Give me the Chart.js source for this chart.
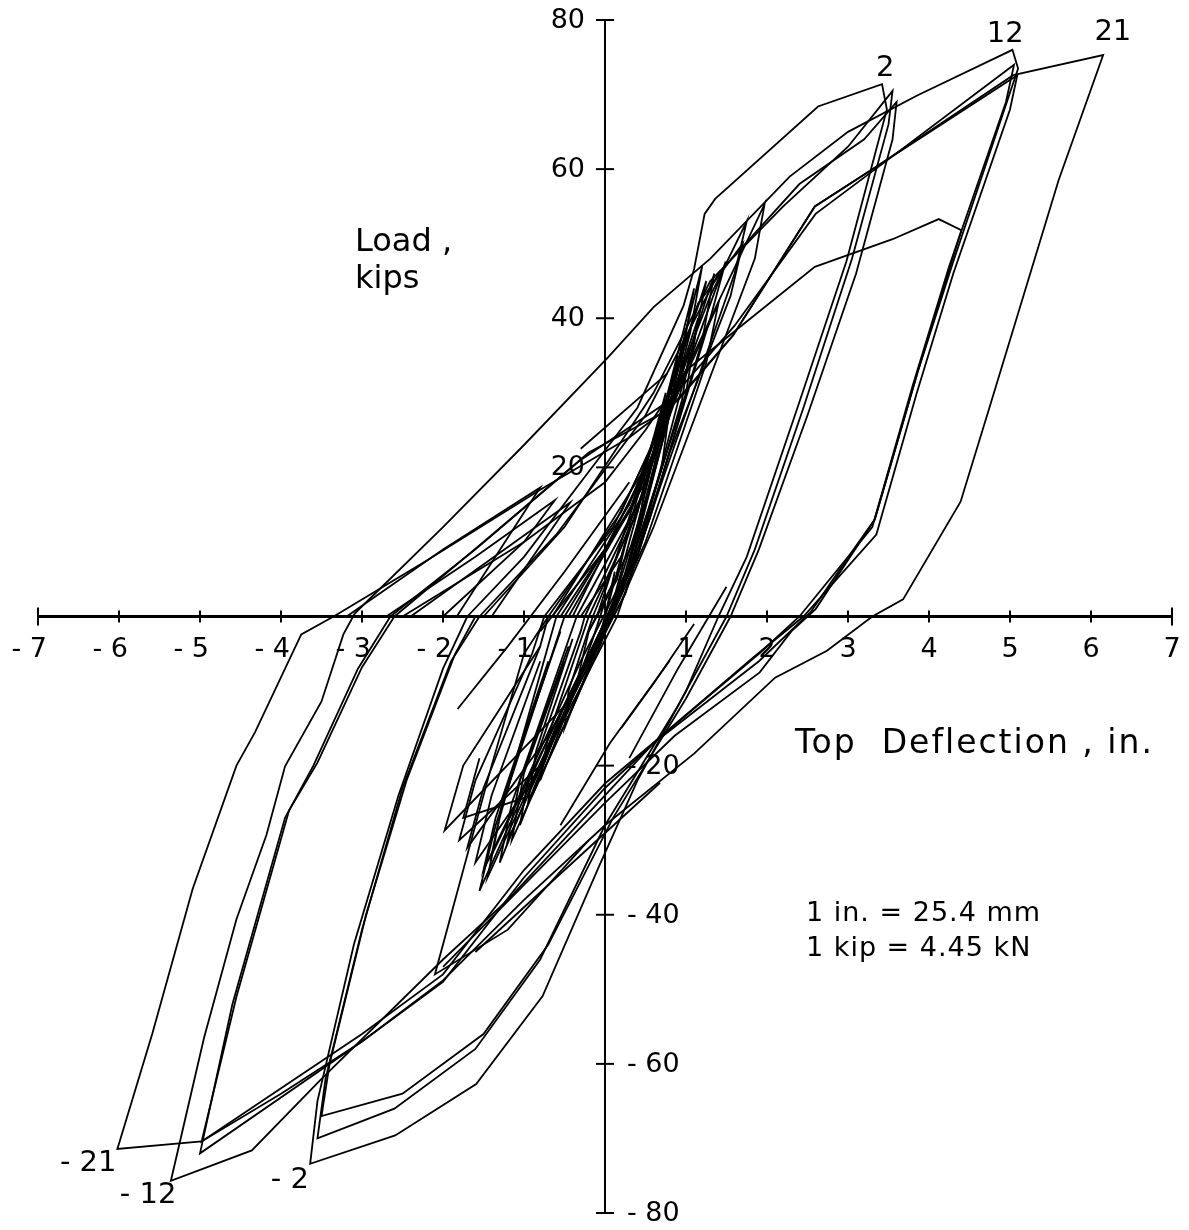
<!DOCTYPE html>
<html>
<head>
<meta charset="utf-8">
<script src="https://cdn.jsdelivr.net/npm/chart.js@4.4.1/dist/chart.umd.min.js"></script>
<style>
  html, body { margin: 0; background: #fff; }
  #wrap { width: 1189px; height: 1230px; position: relative; }
</style>
</head>
<body>
<div id="wrap"><canvas id="chart"></canvas></div>
<script>
// tick labels
const xTicks = [-7, -6, -5, -4, -3, -2, -1, 1, 2, 3, 4, 5, 6, 7];
const yTicks = [80, 60, 40, 20, -20, -40, -60, -80];

// load cycles, [top deflection (in.), load (kips)]
const cycle2 = [
  [-1.7, 0], [-1.0, 8], [-0.3, 18], [0.4, 28], [0.97, 41.7], [1.1, 46.6], [1.23, 54], [1.36, 56],
  [2.63, 68.4], [3.42, 71.4], [3.48, 68], [2.98, 47.6], [2.37, 27.8], [1.75, 8], [1.4, 0],
  [1.0, -10], [0.4, -22], [-0.07, -33.4], [-0.77, -50.9], [-1.59, -62.7], [-2.59, -69.6],
  [-3.64, -73.4], [-3.55, -65], [-3.1, -44], [-2.55, -24], [-2.0, -7], [-1.7, 0]
];
const cycle2b = [
  [-1.5, 0], [-0.5, 12], [0.6, 30], [1.3, 45], [2.2, 55], [3.0, 63], [3.55, 70.5], [3.5, 66],
  [3.05, 48], [2.45, 28], [1.85, 9], [1.5, 0], [0.9, -12], [0.0, -28], [-0.8, -46], [-1.6, -58],
  [-2.6, -66], [-3.55, -70], [-3.45, -62], [-3.0, -42], [-2.5, -23], [-1.9, -6], [-1.55, 0]
];
const cycle2c = [
  [-1.55, 0], [-0.6, 11], [0.5, 27], [1.4, 46], [2.4, 58], [3.2, 64], [3.6, 69], [3.55, 64],
  [3.1, 46], [2.5, 27], [1.9, 9], [1.55, 0], [1.0, -11], [0.1, -27], [-0.7, -44], [-1.5, -56],
  [-2.5, -64], [-3.5, -67], [-3.4, -60], [-2.95, -40], [-2.45, -22], [-1.85, -5], [-1.6, 0]
];
const cycle12 = [
  [-3.09, 0.4], [-2.0, 12], [-1.0, 23], [0.04, 34.8], [0.6, 41.5], [1.3, 48], [2.28, 59],
  [3.0, 65], [3.86, 69.9], [5.03, 76], [5.1, 73.5], [4.3, 47.6], [3.86, 32.8], [3.33, 13],
  [3.07, 9], [2.54, 0.6], [1.9, -6], [0.6, -17], [0.0, -24], [-1.2, -38], [-2.0, -46],
  [-3.5, -62], [-4.36, -71.6], [-5.36, -75.7], [-4.95, -56.5], [-4.55, -40.6], [-4.18, -29.3],
  [-3.95, -20.1], [-3.5, -11.4], [-3.23, -2.4], [-3.09, 0.4]
];
const cycle12b = [
  [-2.6, 0], [-1.5, 10], [-0.2, 22], [0.79, 27.8], [1.58, 37.7], [2.59, 55], [3.33, 60.2],
  [5.09, 72.6], [5.0, 68], [4.3, 46], [3.85, 30], [3.35, 11], [2.45, 0], [1.83, -5.5],
  [0.59, -17], [0.0, -22.4], [-1.0, -34], [-2.0, -48], [-3.0, -56], [-4.98, -70.4],
  [-4.55, -51], [-3.9, -26], [-3.55, -19.6], [-3.0, -6.8], [-2.6, 0]
];
const cycle12c = [
  [-2.65, 0], [-1.6, 9], [-0.3, 21], [0.8, 29], [1.6, 39], [2.6, 54], [3.4, 60.5], [5.05, 74],
  [4.95, 69], [4.25, 47], [3.8, 31], [3.3, 12], [2.4, 0], [1.9, -5], [0.7, -16], [0.0, -23],
  [-1.0, -35], [-2.0, -49], [-3.0, -57], [-5.0, -72], [-4.6, -52], [-3.95, -27], [-3.6, -20],
  [-3.05, -7], [-2.65, 0]
];
const cycle21 = [
  [-3.35, 0], [-2.2, 7.5], [-0.8, 17], [0.3, 24], [0.9, 29], [1.58, 37.7], [2.59, 55],
  [3.33, 60.2], [5.04, 72.6], [6.15, 75.3], [5.6, 58.5], [4.74, 27.8], [4.39, 15.4], [3.68, 2.3],
  [3.3, 0], [2.74, -4.6], [2.1, -8.2], [1.1, -18.4], [0.0, -28], [-1.0, -38], [-2.0, -48.8],
  [-3.0, -57], [-4.0, -64], [-4.98, -70.4], [-6.02, -71.4], [-5.59, -56], [-5.09, -36.5],
  [-4.55, -20], [-4.32, -15.5], [-3.75, -2.4], [-3.35, 0]
];
const cycleLast = [
  [-2.5, 0], [-1.0, 10], [0.0, 18], [0.5, 25], [1.0, 33], [1.8, 40], [2.59, 46.9], [3.55, 50.6],
  [4.12, 53.3], [4.4, 51.8], [3.86, 32.8], [3.33, 13], [2.6, 1], [2.3, -2], [1.91, -7.5],
  [0.86, -16], [0.0, -25], [-1.0, -36], [-2.0, -47]
];

// small cycles in the middle
const small1 = [[0, 0], [0.12, 6], [0.05, 2], [-0.1, -4], [-0.15, -6], [0, 0]];
const small2 = [[0, 0], [0.3, 12], [0.15, 5], [-0.2, -2], [-0.35, -9], [-0.15, -3], [0, 2]];
const small3 = [[-0.1, 0], [0.5, 20], [0.45, 14], [0.05, 0], [-0.5, -15], [-0.45, -10], [-0.15, 0]];
const small4 = [[-0.15, 0], [0.3, 12], [0.75, 30], [0.65, 24], [0.1, 2], [-0.3, -8], [-0.8, -22], [-0.7, -16], [-0.2, 0]];
const small5 = [[-0.2, 0], [0.4, 14], [1.0, 38], [0.9, 31], [0.2, 4], [-0.4, -10], [-1.05, -28], [-0.95, -22], [-0.3, -2], [-0.25, 0]];
const small6 = [[-0.25, 0], [0.45, 16], [1.1, 44], [0.95, 35], [0.25, 5], [-0.5, -12], [-1.3, -33], [-1.15, -25], [-0.35, 0]];
const small7 = [[-0.35, 0], [0.5, 17], [1.2, 47], [1.05, 38], [0.3, 6], [-0.6, -14], [-1.55, -36.8], [-1.35, -28], [-0.5, 0]];
const small8 = [[-0.5, 0], [0.5, 18], [1.49, 47.6], [1.3, 40], [0.4, 8], [-0.5, -12], [-1.98, -28.7], [-1.75, -20], [-0.8, -4], [-0.7, 0]];
const small9 = [[-0.7, 0], [0.2, 14], [1.0, 33], [1.97, 55.3], [1.85, 48], [0.6, 12], [0.2, 2], [-0.6, -15], [-1.45, -35], [-1.3, -27], [-0.6, 0]];
const small10 = [[-0.6, 0], [0.3, 15], [1.3, 43], [1.75, 53], [1.6, 46], [0.7, 18], [0.15, 0], [-0.8, -20], [-1.8, -30], [-1.6, -22], [-0.9, -5], [-0.75, 0]];
const small11 = [[-0.75, 0], [0.1, 12], [0.9, 30], [1.4, 42], [1.25, 34], [0.5, 10], [0.0, -2], [-0.9, -22], [-1.6, -33], [-1.4, -24], [-0.8, -6]];
const small12 = [[-0.4, 0], [0.6, 22], [1.15, 40], [1.0, 30], [0.35, 8], [-0.7, -18], [-1.2, -30], [-1.05, -22], [-0.45, -4]];
const small13 = [[-0.3, 0], [0.2, 8], [0.8, 28], [0.7, 20], [0.2, 3], [-0.4, -10], [-0.95, -25], [-0.85, -18], [-0.4, -3]];
const small14 = [[-0.45, 0], [0.4, 16], [1.05, 36], [0.95, 29], [0.35, 7], [-0.55, -13], [-1.4, -32], [-1.25, -24], [-0.55, -2]];
const small15 = [[-0.55, 0], [0.3, 14], [1.15, 42], [1.7, 50], [1.55, 43], [0.8, 22], [0.25, 3], [-0.7, -16], [-1.7, -31], [-1.5, -23], [-0.8, -4]];
const small16 = [[-0.65, 0], [0.5, 20], [1.25, 45], [1.1, 37], [0.45, 10], [-0.3, -6], [-1.1, -25], [-1.5, -34], [-1.35, -27], [-0.7, -6]];
const small17 = [[-0.8, -2], [0.0, 9], [0.7, 24], [1.35, 46], [1.2, 37], [0.55, 13], [-0.1, -5], [-0.9, -24], [-1.75, -27], [-1.55, -19]];
const small18 = [[-0.2, -2], [0.35, 10], [0.9, 35], [0.8, 27], [0.25, 5], [-0.35, -11], [-1.15, -30], [-1.0, -21], [-0.5, -6]];
const partial1 = [[-3.19, 0], [-2.0, 9], [-0.8, 17.3], [-1.83, 0]];
const partial2 = [[-2.4, 0], [-0.43, 15.3], [-1.4, 0]];
const partial3 = [[-0.2, -30], [-1.2, -42], [-2.1, -48], [-1.85, -38], [-1.4, -20], [-1.0, -5], [-0.7, 0]];
const partial4 = [[0.8, -5.9], [0.06, -17], [-0.55, -28]];
const partial5 = [[0.68, -22.3], [-0.55, -34.5], [-1.6, -45]];
const partial6 = [[-1.82, -12.4], [-1.2, -4], [-0.5, 6], [0.3, 18]];
const partial7 = [[1.1, -1], [0.6, -9], [0.2, -15]];
const partial8 = [[1.5, 4], [0.9, -7], [0.3, -19]];
const partial9 = [[-2.7, 0], [-1.6, 8], [-0.62, 15.6], [-1.0, 10], [-2.0, 0]];
const partial10 = [[-0.3, 22.5], [0.77, 32.6]];

const cycles = [
  cycle2, cycle2b, cycle2c, cycle12, cycle12b, cycle12c, cycle21, cycleLast,
  small1, small2, small3, small4, small5, small6, small7, small8, small9, small10, small11, small12,
  small13, small14, small15, small16, small17, small18,
  partial1, partial2, partial3, partial4, partial5, partial6, partial7, partial8, partial9, partial10
];

// cycle numbers written at the peaks
const peakLabels = [
  { text: '2', x: 3.46, y: 73.5 },
  { text: '12', x: 4.94, y: 78 },
  { text: '21', x: 6.27, y: 78.3 },
  { text: '-21', x: -6.38, y: -73.3 },
  { text: '-12', x: -5.64, y: -77.7 },
  { text: '-2', x: -3.89, y: -75.7 }
];

const FONT = '"DejaVu Sans", "Liberation Sans", sans-serif';

const axesPlugin = {
  id: 'axes',
  afterDatasetsDraw(chart) {
    const { ctx } = chart;
    const sx = chart.scales.x, sy = chart.scales.y;
    const x0 = sx.getPixelForValue(0);
    const y0 = sy.getPixelForValue(0);
    ctx.save();
    ctx.strokeStyle = '#000';
    ctx.fillStyle = '#000';

    // axis lines
    ctx.lineWidth = 3;
    ctx.beginPath();
    ctx.moveTo(sx.getPixelForValue(-7), y0);
    ctx.lineTo(sx.getPixelForValue(7), y0);
    ctx.stroke();
    ctx.lineWidth = 2;
    ctx.beginPath();
    ctx.moveTo(x0, sy.getPixelForValue(80));
    ctx.lineTo(x0, sy.getPixelForValue(-80));
    ctx.stroke();

    // ticks + labels
    ctx.lineWidth = 2;
    ctx.font = '27px ' + FONT;
    ctx.textBaseline = 'middle';
    xTicks.forEach(v => {
      const px = sx.getPixelForValue(v);
      const h = Math.abs(v) === 7 ? 9 : 6;
      ctx.beginPath();
      ctx.moveTo(px, y0 - h);
      ctx.lineTo(px, y0 + h);
      ctx.stroke();
      if (v < 0) {
        ctx.textAlign = 'right';
        ctx.fillText(String(v).replace('-', '- '), px + 9, y0 + 33);
      } else {
        ctx.textAlign = 'center';
        ctx.fillText(String(v), px, y0 + 33);
      }
    });
    yTicks.forEach(v => {
      const py = sy.getPixelForValue(v);
      ctx.beginPath();
      ctx.moveTo(x0 - 9, py);
      ctx.lineTo(x0 + 9, py);
      ctx.stroke();
      if (v > 0) {
        ctx.textAlign = 'right';
        ctx.fillText(String(v), x0 - 20, py + 1);
      } else {
        ctx.textAlign = 'left';
        ctx.fillText(String(v).replace('-', '- '), x0 + 22, py + 1);
      }
    });

    // cycle numbers
    ctx.font = '29px ' + FONT;
    ctx.textAlign = 'center';
    peakLabels.forEach(l => {
      ctx.fillText(l.text.replace('-', '- '), sx.getPixelForValue(l.x), sy.getPixelForValue(l.y));
    });

    // axis titles and units
    ctx.textAlign = 'left';
    ctx.textBaseline = 'alphabetic';
    ctx.font = '32px ' + FONT;
    ctx.fillText('Load ,', 355, 251);
    ctx.fillText('kips', 355, 288);
    ctx.letterSpacing = '2px';
    ctx.font = '33px ' + FONT;
    ctx.fillText('Top  Deflection , in.', 795, 753);
    ctx.letterSpacing = '1px';
    ctx.font = '27px ' + FONT;
    ctx.fillText('1 in. = 25.4 mm', 806, 921);
    ctx.fillText('1 kip = 4.45 kN', 806, 956);
    ctx.restore();
  }
};

new Chart(document.getElementById('chart'), {
  type: 'scatter',
  data: {
    datasets: cycles.map(c => ({
      data: c.map(([x, y]) => ({ x, y })),
      showLine: true,
      borderColor: '#000',
      borderWidth: 1.8,
      pointRadius: 0,
      tension: 0
    }))
  },
  options: {
    responsive: true,
    maintainAspectRatio: false,
    animation: false,
    layout: { padding: { left: 38, right: 17, top: 20, bottom: 17 } },
    plugins: { legend: { display: false }, tooltip: { enabled: false } },
    scales: {
      x: { type: 'linear', min: -7, max: 7, display: false },
      y: { type: 'linear', min: -80, max: 80, display: false }
    }
  },
  plugins: [axesPlugin]
});
</script>
</body>
</html>
